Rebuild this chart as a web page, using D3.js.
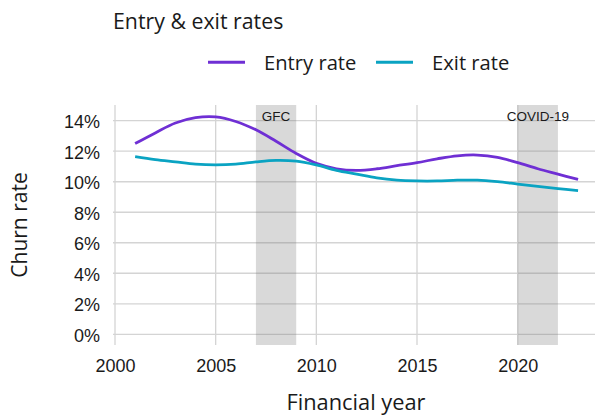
<!DOCTYPE html>
<html>
<head>
<meta charset="utf-8">
<script src="https://cdn.jsdelivr.net/npm/d3@7"></script>
<style>
  html, body { margin: 0; padding: 0; background: #fff; }
  svg { display: block; }
</style>
</head>
<body>
<svg id="chart" width="596" height="416"></svg>
<script>
// Financial years and churn rates (%)
const years = [2001, 2002, 2003, 2004, 2005, 2006, 2007, 2008, 2009, 2010, 2011, 2012,
               2013, 2014, 2015, 2016, 2017, 2018, 2019, 2020, 2021, 2022, 2023];
const entryRate = [12.5, 13.2, 13.85, 14.2, 14.25, 13.95, 13.4, 12.65, 11.85, 11.2, 10.85, 10.75,
                   10.85, 11.05, 11.25, 11.5, 11.7, 11.75, 11.6, 11.25, 10.85, 10.5, 10.15];
const exitRate = [11.65, 11.45, 11.3, 11.15, 11.1, 11.15, 11.3, 11.4, 11.35, 11.1, 10.75, 10.5,
                  10.25, 10.1, 10.05, 10.05, 10.1, 10.1, 10.0, 9.85, 9.7, 9.55, 9.42];

const xTicks = [2000, 2005, 2010, 2015, 2020];
const yTicks = [0, 2, 4, 6, 8, 10, 12, 14];

// Shaded periods
const periodNames = ["GFC", "COVID-19"];
const periodStart = [2007, 2020];
const periodEnd = [2009, 2022];

const seriesNames = ["Entry rate", "Exit rate"];
const seriesColors = ["#6f2fd4", "#0aa3c2"];

const svg = d3.select("#chart");
const titleFont = "'Open Sans', 'Noto Sans', sans-serif";
const tickFont = "'Liberation Sans', Arial, sans-serif";

const plot = { left: 115, right: 595, top: 105, bottom: 345 };

const x = d3.scaleLinear().domain([2000, 2024]).range([115, 598.2]);
const y = d3.scaleLinear().domain([0, 14]).range([334.3, 120.7]);

// Gridlines
const grid = svg.append("g");
grid.selectAll("line.h").data(yTicks).join("line")
  .attr("x1", plot.left - 2).attr("x2", plot.right)
  .attr("y1", d => y(d)).attr("y2", d => y(d))
  .attr("stroke", "#d4d4d4").attr("stroke-width", 1.3);
grid.selectAll("line.v").data(xTicks).join("line")
  .attr("x1", d => x(d)).attr("x2", d => x(d))
  .attr("y1", plot.top).attr("y2", plot.bottom)
  .attr("stroke", "#d4d4d4").attr("stroke-width", 1.3);

// Shaded crisis periods
const periods = periodNames.map((n, i) => ({ name: n, start: periodStart[i], end: periodEnd[i] }));
const pg = svg.append("g");
pg.selectAll("rect").data(periods).join("rect")
  .attr("x", d => x(d.start)).attr("width", d => x(d.end) - x(d.start))
  .attr("y", plot.top).attr("height", plot.bottom - plot.top)
  .attr("fill", "rgba(110,110,110,0.26)");
pg.selectAll("text").data(periods).join("text")
  .attr("x", d => x((d.start + d.end) / 2)).attr("y", 120.7)
  .attr("text-anchor", "middle")
  .attr("font-family", tickFont).attr("font-size", 13.5)
  .attr("fill", "#1a1a1a")
  .text(d => d.name);

// Lines
const line = d3.line()
  .x(d => x(d[0])).y(d => y(d[1]))
  .curve(d3.curveCatmullRom.alpha(0.5));
[entryRate, exitRate].forEach((vals, i) => {
  svg.append("path")
    .datum(years.map((yr, j) => [yr, vals[j]]))
    .attr("fill", "none")
    .attr("stroke", seriesColors[i])
    .attr("stroke-width", 2.8)
    .attr("stroke-linecap", "butt")
    .attr("d", line);
});

// Axes (labels only)
const yAxis = svg.append("g")
  .attr("transform", "translate(100,0)")
  .call(d3.axisLeft(y).tickValues(yTicks).tickFormat(d => d + "%").tickSize(0).tickPadding(0));
yAxis.select(".domain").remove();
yAxis.selectAll("text")
  .attr("font-family", tickFont).attr("font-size", 18).attr("fill", "#1a1a1a")
  .attr("dy", "0.4em");

const xAxis = svg.append("g")
  .attr("transform", "translate(0,371.7)")
  .call(d3.axisBottom(x).tickValues(xTicks).tickFormat(d3.format("d")).tickSize(0).tickPadding(0));
xAxis.select(".domain").remove();
xAxis.selectAll("text")
  .attr("font-family", tickFont).attr("font-size", 18).attr("fill", "#1a1a1a")
  .attr("dy", 0);

// Titles
svg.append("text")
  .attr("x", 113).attr("y", 28.7)
  .attr("font-family", titleFont).attr("font-size", 21.3).attr("fill", "#1a1a1a")
  .text("Entry & exit rates");

svg.append("text")
  .attr("x", 356).attr("y", 409.5)
  .attr("text-anchor", "middle")
  .attr("font-family", titleFont).attr("font-size", 21.8).attr("fill", "#1a1a1a")
  .text("Financial year");

svg.append("text")
  .attr("transform", `translate(26.5,${(plot.top + plot.bottom) / 2}) rotate(-90)`)
  .attr("text-anchor", "middle")
  .attr("font-family", titleFont).attr("font-size", 21).attr("fill", "#1a1a1a")
  .text("Churn rate");

// Legend
const legendX = [208, 376];
const lg = svg.append("g");
seriesNames.forEach((name, i) => {
  lg.append("line")
    .attr("x1", legendX[i]).attr("x2", legendX[i] + 37)
    .attr("y1", 62.3).attr("y2", 62.3)
    .attr("stroke", seriesColors[i]).attr("stroke-width", 3);
  lg.append("text")
    .attr("x", legendX[i] + 56).attr("y", 70)
    .attr("font-family", titleFont).attr("font-size", 20.2).attr("fill", "#1a1a1a")
    .text(name);
});
</script>
</body>
</html>
